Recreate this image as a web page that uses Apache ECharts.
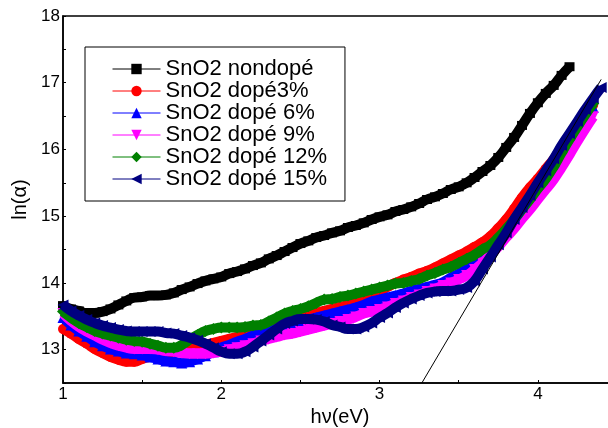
<!DOCTYPE html>
<html>
<head>
<meta charset="utf-8">
<script src="https://cdn.jsdelivr.net/npm/echarts@6/dist/echarts.min.js"></script>
<style>
  html, body { margin: 0; padding: 0; background: #fff; }
  #chart { width: 608px; height: 428px; }
</style>
</head>
<body>
<div id="chart"></div>
<script>
// Photon energy hν (eV), shared abscissa of all absorption curves
const hv = [
  1.00, 1.05, 1.10, 1.15, 1.20, 1.25, 1.30, 1.35, 1.40, 1.45,
  1.50, 1.55, 1.60, 1.65, 1.70, 1.75, 1.80, 1.85, 1.90, 1.95,
  2.00, 2.05, 2.10, 2.15, 2.20, 2.25, 2.30, 2.35, 2.40, 2.45,
  2.50, 2.55, 2.60, 2.65, 2.70, 2.75, 2.80, 2.85, 2.90, 2.95,
  3.00, 3.05, 3.10, 3.15, 3.20, 3.25, 3.30, 3.35, 3.40, 3.45,
  3.50, 3.55, 3.60, 3.65, 3.70, 3.75, 3.80, 3.85, 3.90, 3.95,
  4.00, 4.05, 4.10, 4.15, 4.20, 4.25, 4.30, 4.35, 4.40
];

// ln(alpha) for each film
const lnUndoped = [
  13.66, 13.61, 13.58, 13.55, 13.55, 13.57, 13.61, 13.67, 13.73, 13.78,
  13.79, 13.81, 13.81, 13.82, 13.85, 13.90, 13.94, 13.99, 14.03, 14.06,
  14.09, 14.14, 14.17, 14.21, 14.26, 14.30, 14.36, 14.41, 14.47, 14.53,
  14.59, 14.63, 14.68, 14.71, 14.75, 14.78, 14.83, 14.86, 14.90, 14.95,
  14.99, 15.02, 15.07, 15.10, 15.14, 15.19, 15.25, 15.29, 15.34, 15.40,
  15.44, 15.50, 15.58, 15.67, 15.76, 15.88, 16.03, 16.18, 16.36, 16.54,
  16.70, 16.84, 16.96, 17.11, 17.24
];
const lnDoped3 = [
  13.31, 13.24, 13.16, 13.09, 13.01, 12.95, 12.89, 12.85, 12.82, 12.82,
  12.86, 12.89, 12.91, 12.92, 12.95, 12.98, 13.01, 13.04, 13.07, 13.10,
  13.13, 13.16, 13.19, 13.22, 13.27, 13.31, 13.36, 13.40, 13.43, 13.46,
  13.49, 13.52, 13.55, 13.58, 13.61, 13.64, 13.67, 13.71, 13.76, 13.82,
  13.88, 13.94, 14.00, 14.05, 14.09, 14.14, 14.18, 14.23, 14.29, 14.35,
  14.41, 14.47, 14.54, 14.61, 14.70, 14.82, 14.95, 15.11, 15.28, 15.43,
  15.56, 15.71, 15.85, 16.01, 16.18, 16.34, 16.50, 16.67
];
const lnDoped6 = [
  13.48, 13.37, 13.28, 13.20, 13.12, 13.06, 13.01, 12.98, 12.95, 12.94,
  12.92, 12.89, 12.86, 12.83, 12.82, 12.80, 12.82, 12.86, 12.91, 12.97,
  13.03, 13.07, 13.12, 13.16, 13.21, 13.25, 13.28, 13.31, 13.34, 13.37,
  13.42, 13.45, 13.48, 13.51, 13.54, 13.57, 13.60, 13.63, 13.67, 13.72,
  13.75, 13.78, 13.81, 13.84, 13.88, 13.91, 13.94, 13.97, 14.01, 14.08,
  14.14, 14.21, 14.30, 14.41, 14.51, 14.63, 14.77, 14.92, 15.07, 15.22,
  15.39, 15.55, 15.73, 15.92, 16.12, 16.30, 16.46, 16.63
];
const lnDoped9 = [
  13.54, 13.43, 13.34, 13.27, 13.21, 13.15, 13.10, 13.06, 13.03, 13.01,
  13.01, 13.01, 13.00, 12.98, 12.97, 12.95, 12.94, 12.94, 12.94, 12.95,
  12.97, 13.00, 13.03, 13.06, 13.09, 13.13, 13.16, 13.19, 13.22, 13.24,
  13.27, 13.30, 13.33, 13.36, 13.39, 13.42, 13.45, 13.49, 13.54, 13.57,
  13.60, 13.64, 13.69, 13.73, 13.78, 13.82, 13.87, 13.91, 13.96, 14.00,
  14.05, 14.11, 14.20, 14.30, 14.42, 14.54, 14.68, 14.81, 14.96, 15.10,
  15.25, 15.40, 15.55, 15.73, 15.92, 16.12, 16.31, 16.49
];
const lnDoped12 = [
  13.57, 13.48, 13.40, 13.34, 13.28, 13.24, 13.21, 13.18, 13.15, 13.13,
  13.12, 13.09, 13.06, 13.03, 13.03, 13.07, 13.15, 13.22, 13.28, 13.31,
  13.33, 13.33, 13.33, 13.34, 13.36, 13.37, 13.42, 13.48, 13.54, 13.58,
  13.61, 13.65, 13.70, 13.75, 13.76, 13.79, 13.81, 13.84, 13.87, 13.90,
  13.93, 13.96, 13.99, 14.00, 14.03, 14.06, 14.11, 14.15, 14.20, 14.24,
  14.30, 14.36, 14.42, 14.50, 14.57, 14.68, 14.81, 14.95, 15.10, 15.25,
  15.41, 15.56, 15.74, 15.95, 16.15, 16.34, 16.52, 16.69
];
const lnDoped15 = [
  13.67, 13.58, 13.51, 13.45, 13.40, 13.36, 13.33, 13.30, 13.28, 13.27,
  13.27, 13.27, 13.27, 13.25, 13.24, 13.21, 13.18, 13.14, 13.09, 13.03,
  12.97, 12.94, 12.94, 12.97, 13.04, 13.13, 13.22, 13.31, 13.39, 13.43,
  13.46, 13.46, 13.45, 13.42, 13.37, 13.34, 13.31, 13.31, 13.34, 13.40,
  13.48, 13.55, 13.63, 13.70, 13.76, 13.81, 13.85, 13.87, 13.88, 13.88,
  13.90, 13.93, 14.03, 14.21, 14.39, 14.57, 14.75, 14.95, 15.13, 15.31,
  15.50, 15.68, 15.86, 16.06, 16.24, 16.42, 16.60, 16.77, 16.93
];

// Linear extrapolation of the absorption edge (band-gap tangent)
const tangentHv = [3.267, 4.40];
const tangentLn = [12.50, 17.05];

const seriesNames = [
  'SnO2 nondopé', 'SnO2 dopé3%', 'SnO2 dopé 6%',
  'SnO2 dopé 9%', 'SnO2 dopé 12%', 'SnO2 dopé 15%'
];
const seriesValues = [lnUndoped, lnDoped3, lnDoped6, lnDoped9, lnDoped12, lnDoped15];
const seriesColors = ['#000000', '#ff0000', '#0000ff', '#ff00ff', '#008000', '#000080'];
const seriesSymbols = ['rect', 'circle', 'triangle', 'triangle', 'diamond', 'triangle'];
const seriesSymbolRotate = [0, 0, 0, 180, 0, 90];
const seriesSymbolSize = [[10, 9], 10, 11, 11, 12, 11];

const FONT = 'Liberation Sans';

const pairs = (xs, ys) => ys.map((y, i) => [xs[i], y]);

const curveSeries = seriesNames.map((name, k) => ({
  name: name,
  type: 'line',
  data: pairs(hv, seriesValues[k]),
  smooth: true,
  showAllSymbol: true,
  symbol: seriesSymbols[k],
  symbolRotate: seriesSymbolRotate[k],
  symbolSize: seriesSymbolSize[k],
  lineStyle: { color: seriesColors[k], width: 10 },
  itemStyle: { color: seriesColors[k] },
  z: 2 + k
}));

const tangentSeries = {
  name: 'tangent',
  type: 'line',
  data: pairs(tangentHv, tangentLn),
  symbol: 'none',
  lineStyle: { color: '#000', width: 1 },
  z: 20
};

const intLabel = v => (Math.abs(v - Math.round(v)) < 1e-6 ? String(Math.round(v)) : '');

const chart = echarts.init(document.getElementById('chart'), null, { renderer: 'canvas' });
chart.setOption({
  animation: false,
  backgroundColor: '#fff',
  grid: {
    left: 63, top: 16, width: 554, height: 367,
    outerBoundsMode: 'none',
    containLabel: false,
    show: true, borderColor: '#000', borderWidth: 1.5, backgroundColor: 'transparent'
  },
  legend: {
    orient: 'vertical',
    left: 85, top: 47,
    data: seriesNames,
    backgroundColor: '#fff',
    borderColor: '#000',
    borderWidth: 1,
    borderRadius: 0,
    padding: [11, 18, 11, 27],
    itemWidth: 48,
    itemHeight: 13,
    itemGap: 0,
    lineStyle: { width: 1 },
    textStyle: { fontFamily: FONT, fontSize: 22, color: '#000', lineHeight: 22 }
  },
  xAxis: {
    type: 'value',
    min: 1, max: 4.5, interval: 0.5,
    name: 'hν(eV)',
    nameLocation: 'middle',
    nameGap: 15,
    nameTextStyle: { fontFamily: FONT, fontSize: 20, color: '#000', verticalAlign: 'top' },
    axisLine: { lineStyle: { color: '#000', width: 1.5 } },
    axisTick: { inside: true, length: 3, lineStyle: { color: '#000' } },
    axisLabel: { formatter: intLabel, fontFamily: FONT, fontSize: 17, color: '#000', margin: 3 },
    splitLine: { show: false }
  },
  yAxis: {
    type: 'value',
    min: 12.5, max: 18, interval: 0.5,
    name: 'ln(α)',
    nameLocation: 'middle',
    nameGap: 27,
    nameTextStyle: { fontFamily: FONT, fontSize: 20, color: '#000' },
    axisLine: { lineStyle: { color: '#000', width: 1.5 } },
    axisTick: { inside: true, length: 3, lineStyle: { color: '#000' } },
    axisLabel: { formatter: intLabel, fontFamily: FONT, fontSize: 17, color: '#000', margin: 3 },
    splitLine: { show: false }
  },
  series: curveSeries.concat([tangentSeries])
});
</script>
</body>
</html>
